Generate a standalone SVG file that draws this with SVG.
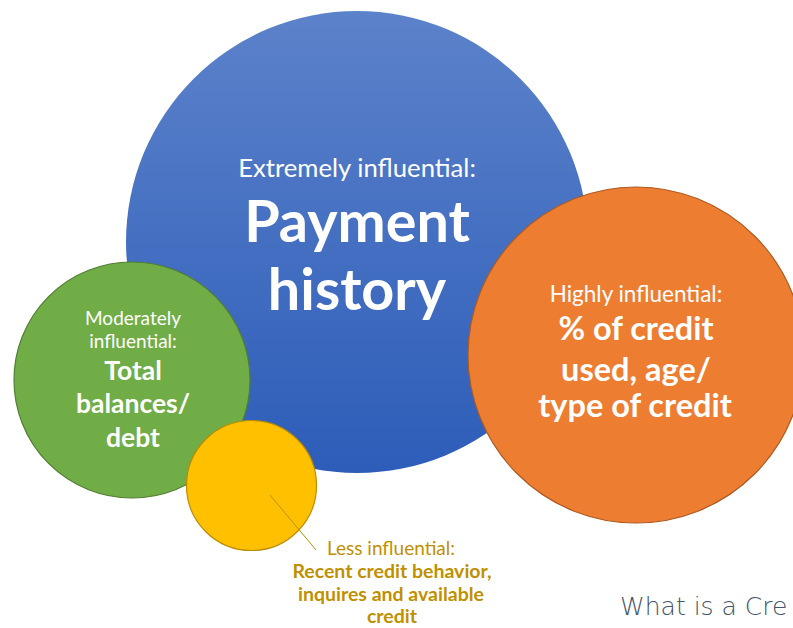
<svg xmlns="http://www.w3.org/2000/svg" width="793" height="628" viewBox="0 0 793 628">
<defs>
<linearGradient id="gBlue" x1="0" y1="0" x2="0" y2="1">
<stop offset="0" stop-color="#5C82CA"/>
<stop offset="1" stop-color="#2D5DB9"/>
</linearGradient>
<style>
text{font-family:Lato,"Open Sans","Liberation Sans",sans-serif;text-anchor:middle;fill:#FFFFFF}
.b{font-weight:bold}
.y{fill:#BF9000}
</style>
</defs>
<rect width="793" height="628" fill="#FFFFFF"/>
<g id="node-payment">
<circle cx="357" cy="242" r="231" fill="url(#gBlue)"/>
<text x="357" y="177" font-size="25.7">Extremely influential:</text>
<text x="357" y="242" font-size="57.5" class="b">Payment</text>
<text x="357" y="310" font-size="57.5" class="b">history</text>
</g>
<g id="node-balances">
<circle cx="132" cy="380" r="118" fill="#70AD47" stroke="#507E32" stroke-width="1.2"/>
<text x="133" y="325" font-size="19">Moderately</text>
<text x="133" y="348" font-size="19">influential:</text>
<text x="133" y="380" font-size="26.5" class="b">Total</text>
<text x="133" y="413" font-size="26.5" class="b">balances/</text>
<text x="133" y="447" font-size="26.5" class="b">debt</text>
</g>
<g id="node-recent">
<circle cx="251.5" cy="485.5" r="65" fill="#FFC000" stroke="#BC8C00" stroke-width="1.2"/>
</g>
<g id="node-credit-used">
<circle cx="636" cy="355" r="168" fill="#ED7D31" stroke="#AE5A21" stroke-width="1.2"/>
<text x="636" y="302" font-size="22.5">Highly influential:</text>
<text x="636" y="340" font-size="32.5" class="b">% of credit</text>
<text x="636" y="381" font-size="32.5" class="b">used, age/</text>
<text x="635" y="417" font-size="32.5" class="b">type of credit</text>
</g>
<g id="connectors">
<line x1="270" y1="495" x2="316" y2="550" stroke="#BF9000" stroke-width="1"/>
</g>
<g id="label-recent">
<text x="391" y="555" font-size="19" class="y">Less influential:</text>
<text x="392" y="578" font-size="19.5" class="b y">Recent credit behavior,</text>
<text x="391" y="601" font-size="19.5" class="b y">inquires and available</text>
<text x="392" y="623" font-size="19.5" class="b y">credit</text>
</g>
<text x="620" y="615" font-size="25" style="text-anchor:start;fill:#44546A;font-family:'DejaVu Sans','Liberation Sans',sans-serif;font-weight:300">What is a Cre</text>
</svg>
